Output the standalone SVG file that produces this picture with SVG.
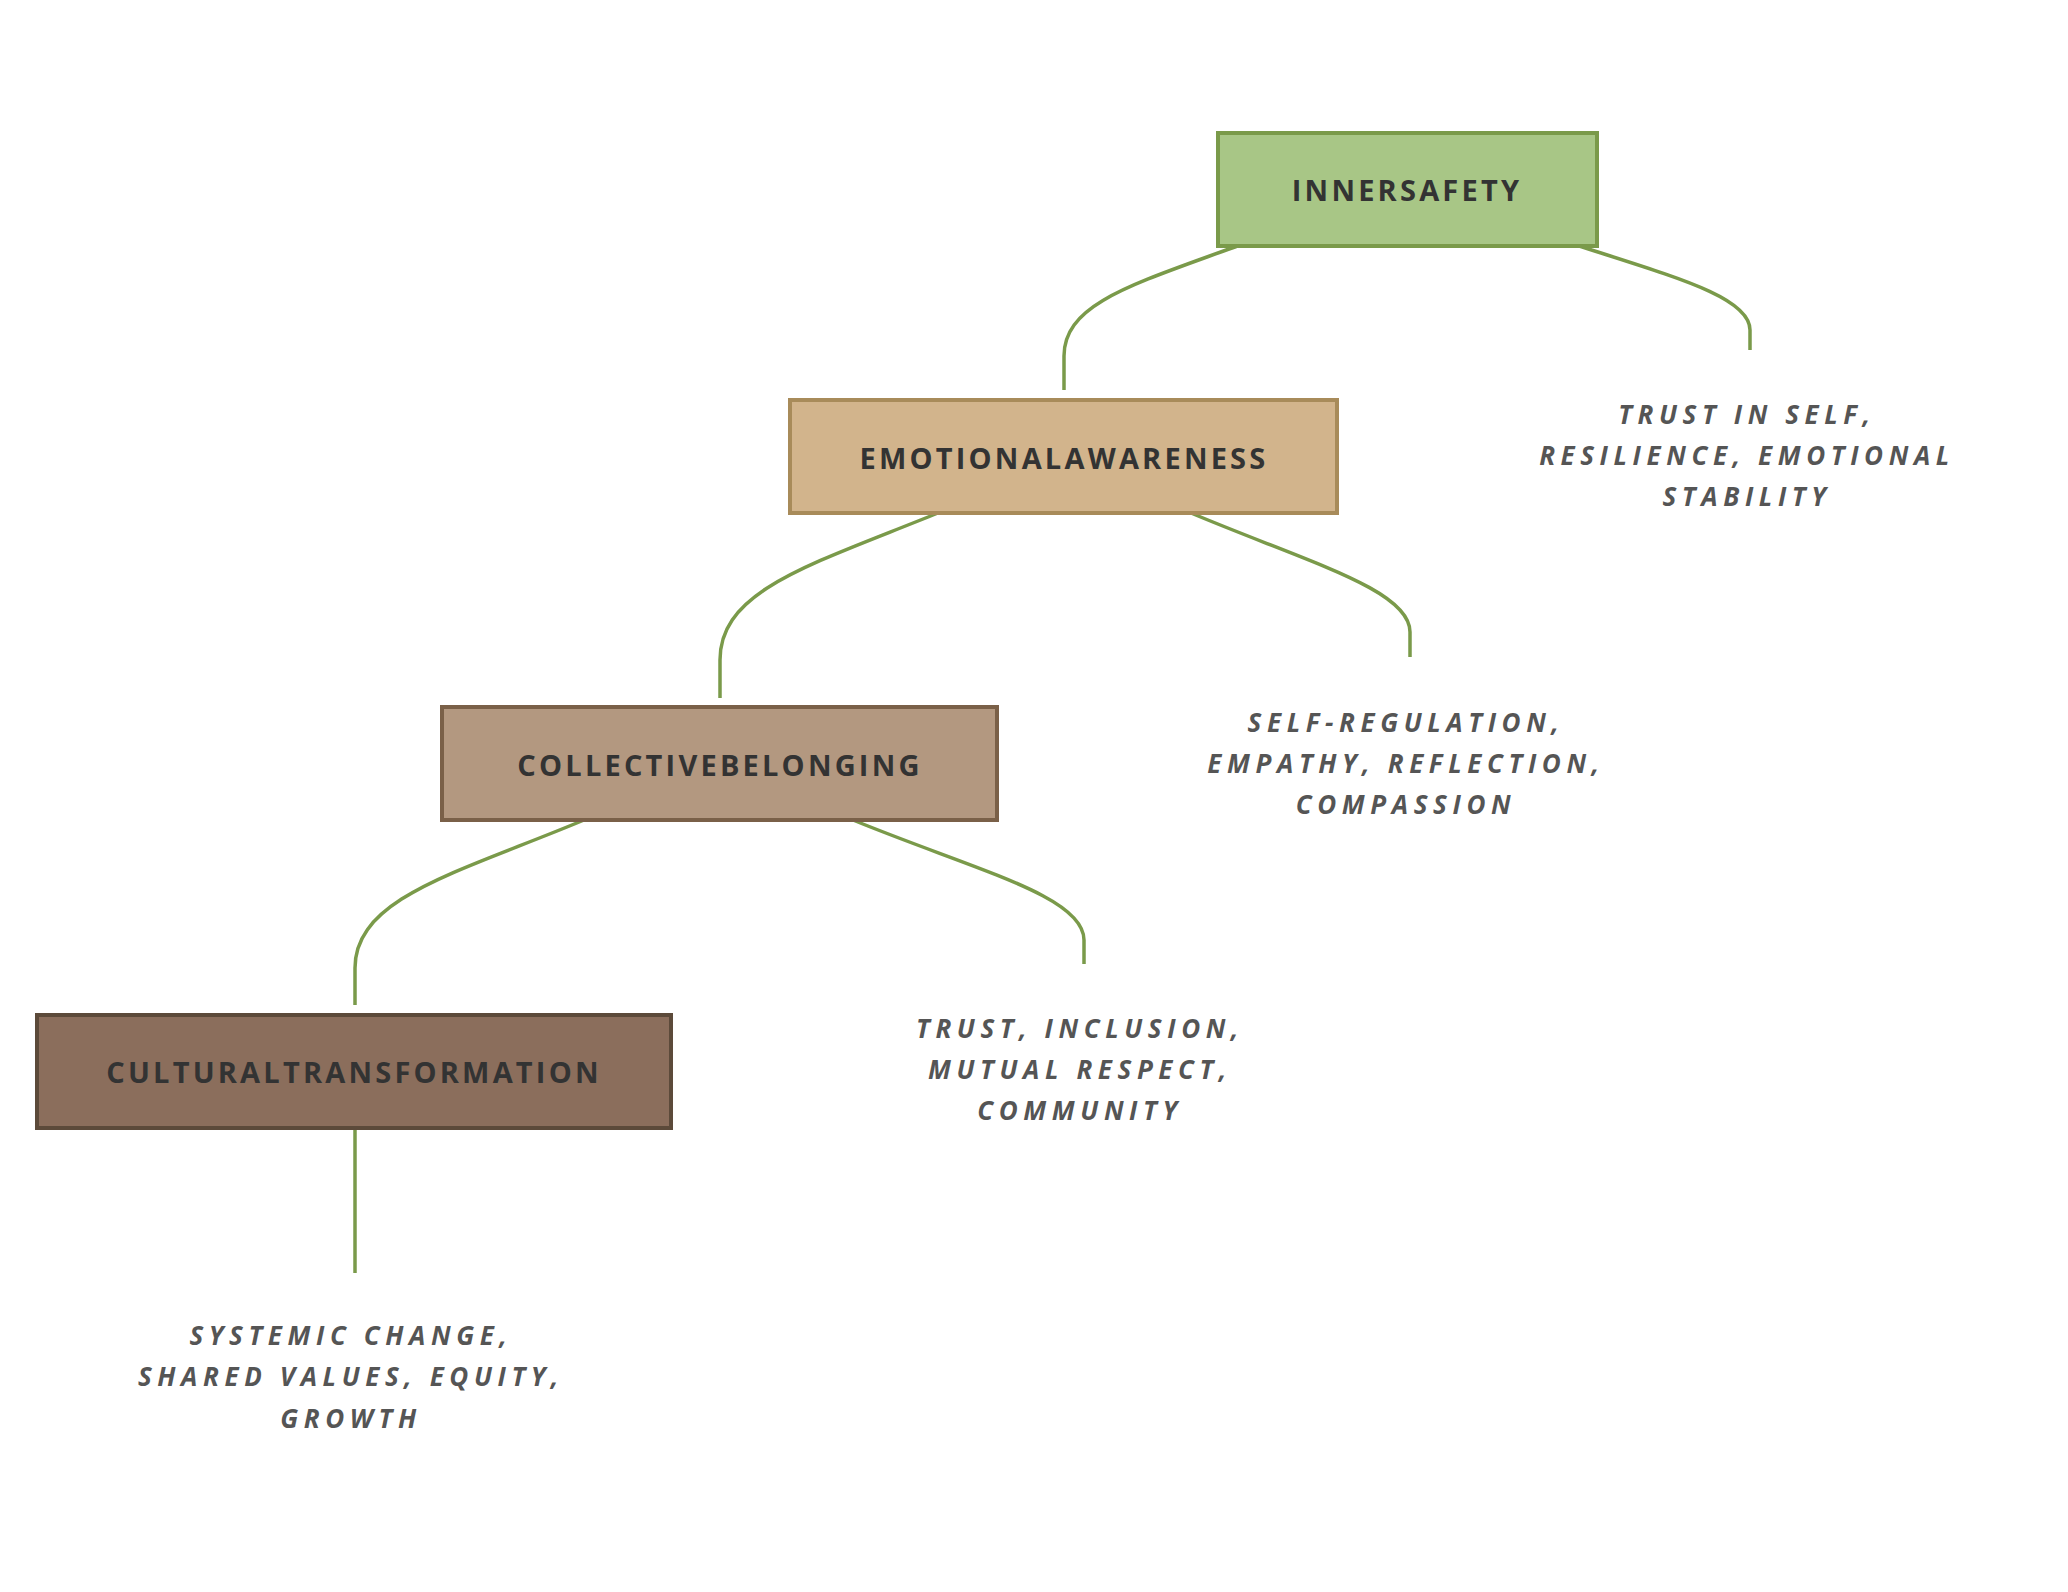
<svg xmlns="http://www.w3.org/2000/svg" width="2068" height="1592" viewBox="0 0 2068 1592">
<style>
.node-t{font-family:"Open Sans","DejaVu Sans",sans-serif;font-weight:700;font-size:29px;letter-spacing:3.2px;fill:#333;text-anchor:middle;dominant-baseline:central}
.lbl{font-family:"Open Sans","DejaVu Sans",sans-serif;font-weight:700;font-style:italic;font-size:26px;letter-spacing:5.6px;fill:#555;text-anchor:middle}
.conn{fill:none;stroke:#7A9A4A;stroke-width:3.5}
</style>
<rect width="2068" height="1592" fill="#fff"/>
<g id="connectors">
<path class="conn" d="M1240,245 C1134,284 1064,303 1064,356 L1064,390"/>
<path class="conn" d="M1576,245 C1675,277 1750,297 1750,330 L1750,350"/>
<path class="conn" d="M938,513 C810,565 720,590 720,660 L720,698"/>
<path class="conn" d="M1191,513 C1310,563 1410,590 1410,632 L1410,657"/>
<path class="conn" d="M584,820 C460,872 355,897 355,968 L355,1005"/>
<path class="conn" d="M853,820 C975,870 1084,896 1084,940 L1084,964"/>
<path class="conn" d="M355,1128 L355,1273"/>
</g>
<g id="node-innersafety">
<rect x="1218" y="133" width="379" height="113" fill="#A8C686" stroke="#7A9A4A" stroke-width="4"/>
<text class="node-t" x="1407" y="189">INNERSAFETY</text>
</g>
<g id="node-emotionalawareness">
<rect x="790" y="400" width="547" height="113" fill="#D2B48C" stroke="#A88B5A" stroke-width="4"/>
<text class="node-t" x="1064" y="457">EMOTIONALAWARENESS</text>
</g>
<g id="node-collectivebelonging">
<rect x="442" y="707" width="555" height="113" fill="#B39880" stroke="#7A6048" stroke-width="4"/>
<text class="node-t" x="720" y="764">COLLECTIVEBELONGING</text>
</g>
<g id="node-culturaltransformation">
<rect x="37" y="1015" width="634" height="113" fill="#8B6E5C" stroke="#5C4A3A" stroke-width="4"/>
<text class="node-t" x="354" y="1071">CULTURALTRANSFORMATION</text>
</g>
<g id="label-innersafety">
<text class="lbl" x="1747" y="424">TRUST IN SELF,</text>
<text class="lbl" x="1747" y="465">RESILIENCE, EMOTIONAL</text>
<text class="lbl" x="1747" y="506">STABILITY</text>
</g>
<g id="label-emotionalawareness">
<text class="lbl" x="1406" y="732">SELF-REGULATION,</text>
<text class="lbl" x="1406" y="773">EMPATHY, REFLECTION,</text>
<text class="lbl" x="1406" y="814">COMPASSION</text>
</g>
<g id="label-collectivebelonging">
<text class="lbl" x="1080" y="1038">TRUST, INCLUSION,</text>
<text class="lbl" x="1080" y="1079">MUTUAL RESPECT,</text>
<text class="lbl" x="1080" y="1120">COMMUNITY</text>
</g>
<g id="label-culturaltransformation">
<text class="lbl" x="351" y="1345">SYSTEMIC CHANGE,</text>
<text class="lbl" x="351" y="1386">SHARED VALUES, EQUITY,</text>
<text class="lbl" x="351" y="1428">GROWTH</text>
</g>
</svg>
